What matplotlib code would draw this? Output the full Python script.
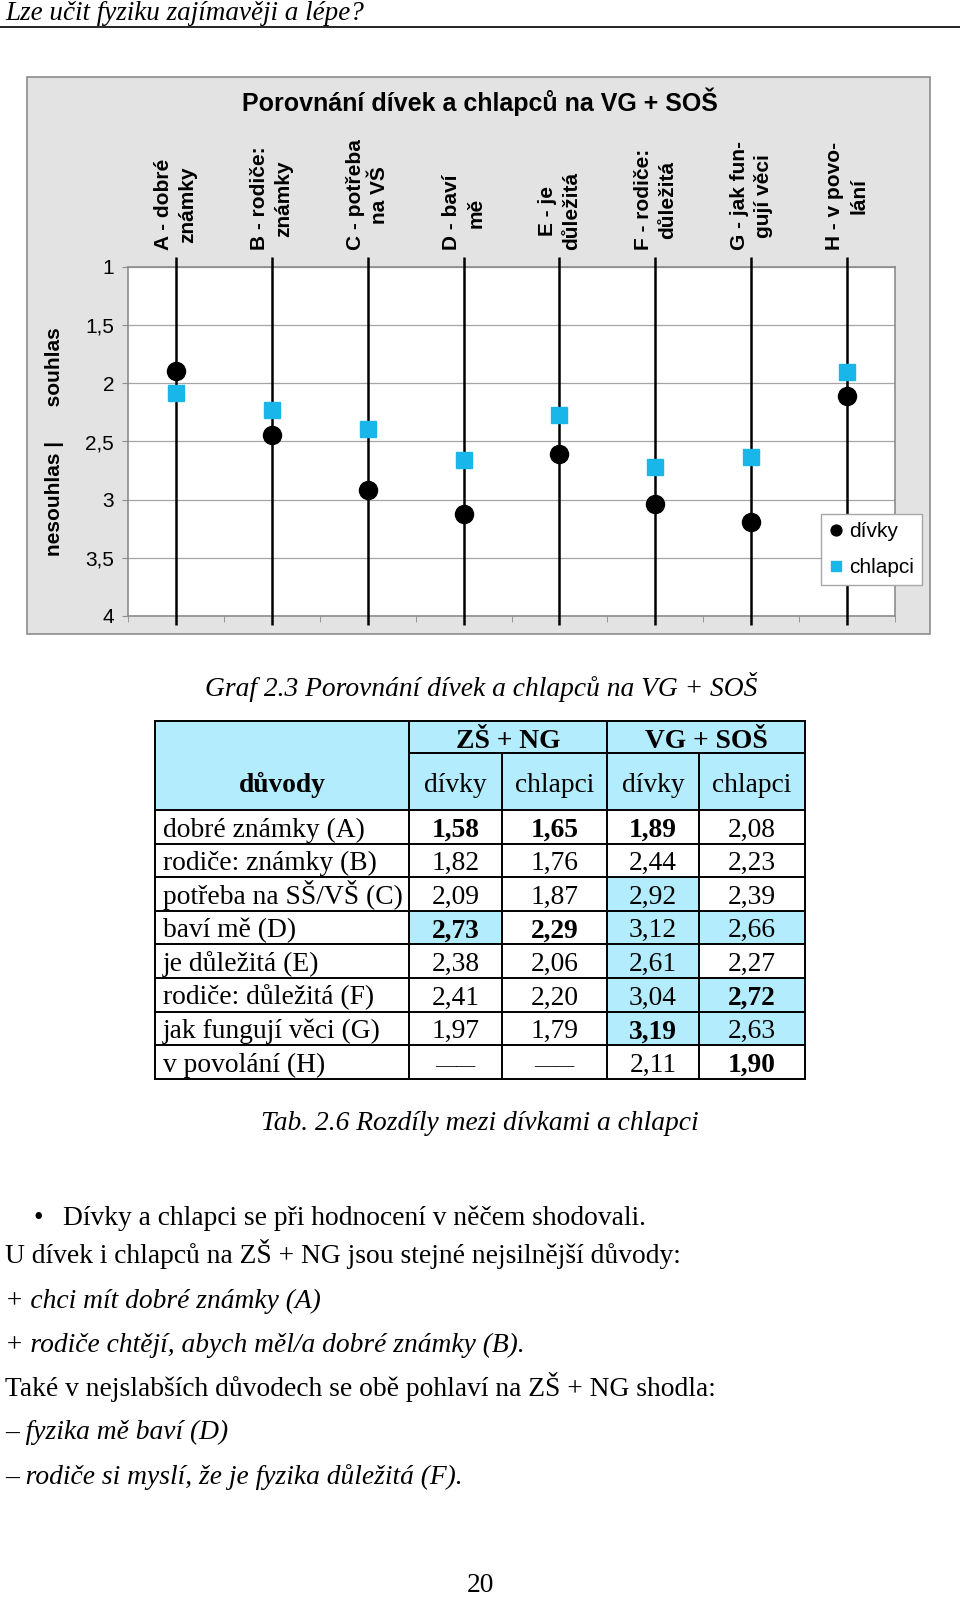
import matplotlib
matplotlib.use('Agg')
import matplotlib.pyplot as plt
import numpy as np
from matplotlib.patches import Rectangle
from matplotlib.transforms import blended_transform_factory

# chart data (VG + SOS)
categories = ['A - dobré\nznámky', 'B - rodiče:\nznámky', 'C - potřeba\nna VŠ',
              'D - baví\nmě', 'E - je\ndůležitá', 'F - rodiče:\ndůležitá',
              'G - jak fun-\ngují věci', 'H - v povo-\nlání']
vg_divky = [1.89, 2.44, 2.92, 3.12, 2.61, 3.04, 3.19, 2.11]
vg_chlapci = [2.08, 2.23, 2.39, 2.66, 2.27, 2.72, 2.63, 1.90]
y_ticks = [1, 1.5, 2, 2.5, 3, 3.5, 4]

# table data
row_names = ['dobré známky (A)', 'rodiče: známky (B)', 'potřeba na SŠ/VŠ (C)',
             'baví mě (D)', 'je důležitá (E)', 'rodiče: důležitá (F)',
             'jak fungují věci (G)', 'v povolání (H)']
zs_divky = [1.58, 1.82, 2.09, 2.73, 2.38, 2.41, 1.97, None]
zs_chlapci = [1.65, 1.76, 1.87, 2.29, 2.06, 2.20, 1.79, None]
highlight = [(2, 2), (3, 0), (3, 2), (3, 3), (4, 2), (5, 2), (5, 3), (6, 2), (6, 3)]
bold = [(0, 0), (0, 1), (0, 2), (3, 0), (3, 1), (5, 3), (6, 2), (7, 3)]

W, H = 960, 1597
SERIF = 'Liberation Serif'
SANS = 'Liberation Sans'
BLUE = '#19b6ea'
LIGHT = '#b3ecfc'
FS = 19.8

fig = plt.figure(figsize=(9.6, 15.97), dpi=100)
page = fig.add_axes([0, 0, 1, 1])
page.set_xlim(0, W)
page.set_ylim(H, 0)
page.axis('off')


def px_axes(x0, y0, x1, y1):
    return fig.add_axes([x0 / W, 1 - y1 / H, (x1 - x0) / W, (y1 - y0) / H])


# page header
page.text(5, 20, 'Lze učit fyziku zajímavěji a lépe?', family=SERIF, style='italic',
          fontsize=19.5, va='baseline')
page.plot([0, W], [27, 27], color='black', lw=1.2)

# chart frame
page.add_patch(Rectangle((27, 77), 903, 557, fc='#e3e3e3', ec='#8c8c8c', lw=1.2))
page.text(480, 102, 'Porovnání dívek a chlapců na VG + SOŠ', family=SANS,
          fontweight='bold', fontsize=18, ha='center', va='center')

ax = px_axes(128, 267, 895, 616)
ax.set_facecolor('white')
x = np.arange(len(categories)) + 0.5
ax.set_xlim(0, len(categories))
ax.set_ylim(4, 1)
ax.set_yticks(y_ticks)
ax.set_yticklabels([('%g' % v).replace('.', ',') for v in y_ticks], family=SANS, fontsize=15)
ax.yaxis.grid(True, color='#a6a6a6', lw=0.9)
ax.set_axisbelow(True)
for s in ax.spines.values():
    s.set_color('#8c8c8c')
    s.set_linewidth(1.2)
ax.tick_params(axis='y', direction='out', length=4, color='#8c8c8c', pad=6)

ax.set_xticks(x)
ax.set_xticklabels(categories, rotation=90, family=SANS, fontweight='bold', fontsize=15,
                   linespacing=1.35, multialignment='center')
ax.tick_params(axis='x', which='major', bottom=False, labelbottom=False,
               top=False, labeltop=True, length=0, pad=12)
ax.set_xticks(np.arange(len(categories) + 1), minor=True)
ax.tick_params(axis='x', which='minor', bottom=True, top=False, direction='out',
               length=4, color='#8c8c8c')

trans = blended_transform_factory(ax.transData, ax.transAxes)
ax.vlines(x, -0.026, 1.029, transform=trans, colors='black', lw=1.8, clip_on=False, zorder=3)
ax.plot(x, vg_divky, 'o', color='black', ms=13, ls='none', label='dívky', zorder=4)
ax.plot(x, vg_chlapci, 's', color=BLUE, mec=BLUE, ms=12, ls='none', label='chlapci', zorder=4)

ax.set_ylabel('nesouhlas |      souhlas', family=SANS, fontweight='bold', fontsize=15)
ax.yaxis.set_label_coords((64 - 128) / 767, 0.5)

leg = ax.legend(loc='upper left', bbox_to_anchor=(821 / W, 1 - 514 / H),
                bbox_transform=fig.transFigure, fancybox=False, framealpha=1,
                edgecolor='#a6a6a6', borderaxespad=0, markerscale=0.6,
                handlelength=0.6, handletextpad=0.35, labelspacing=0.8, borderpad=0.4,
                prop={'family': SANS, 'size': 15})
leg.get_frame().set_linewidth(1)

# caption
page.text(481, 696, 'Graf 2.3 Porovnání dívek a chlapců na VG + SOŠ', family=SERIF,
          style='italic', fontsize=FS, ha='center', va='baseline')

# table
cols = [155, 409, 502, 607, 699, 805]
top, mid, hdr = 721, 753, 810
rh = 33.6
n = len(row_names)
bottom = hdr + rh * n
page.add_patch(Rectangle((cols[0], top), cols[-1] - cols[0], hdr - top, fc=LIGHT, ec='none'))
for (r, c) in highlight:
    page.add_patch(Rectangle((cols[c + 1], hdr + r * rh), cols[c + 2] - cols[c + 1], rh,
                             fc=LIGHT, ec='none'))
lw = 1.4
page.plot([cols[0], cols[-1]], [top, top], color='black', lw=lw)
page.plot([cols[1], cols[-1]], [mid, mid], color='black', lw=lw)
for i in range(n + 1):
    yy = hdr + i * rh
    page.plot([cols[0], cols[-1]], [yy, yy], color='black', lw=lw)
for i, cx in enumerate(cols):
    y0 = mid if i in (2, 4) else top
    page.plot([cx, cx], [y0, bottom], color='black', lw=lw)

tkw = dict(family=SERIF, fontsize=FS, va='baseline')
page.text((cols[1] + cols[3]) / 2, mid - 5, 'ZŠ + NG', ha='center', fontweight='bold', **tkw)
page.text((cols[3] + cols[5]) / 2, mid - 5, 'VG + SOŠ', ha='center', fontweight='bold', **tkw)
page.text((cols[0] + cols[1]) / 2, hdr - 18, 'důvody', ha='center', fontweight='bold', **tkw)
for c, lab in enumerate(['dívky', 'chlapci', 'dívky', 'chlapci']):
    page.text((cols[c + 1] + cols[c + 2]) / 2, hdr - 18, lab, ha='center', **tkw)

columns = [zs_divky, zs_chlapci, vg_divky, vg_chlapci]
for r, name in enumerate(row_names):
    yb = hdr + r * rh + rh - 7
    page.text(cols[0] + 8, yb, name, ha='left', **tkw)
    for c, col in enumerate(columns):
        v = col[r]
        cx = (cols[c + 1] + cols[c + 2]) / 2
        if v is None:
            page.text(cx, yb - 1, '——', ha='center', family=SERIF, fontsize=14.5,
                      va='baseline')
            continue
        page.text(cx, yb, ('%.2f' % v).replace('.', ','), ha='center',
                  fontweight='bold' if (r, c) in bold else 'normal', **tkw)

page.text(480, 1130, 'Tab. 2.6 Rozdíly mezi dívkami a chlapci', family=SERIF,
          style='italic', fontsize=FS, ha='center', va='baseline')

# body text
body = dict(family=SERIF, fontsize=FS, va='baseline')
page.text(38, 1225, '•', ha='center', **body)
page.text(63, 1225, 'Dívky a chlapci se při hodnocení v něčem shodovali.', **body)
page.text(5, 1263, 'U dívek i chlapců na ZŠ + NG jsou stejné nejsilnější důvody:', **body)
page.text(5, 1308, '+ chci mít dobré známky (A)', style='italic', **body)
page.text(5, 1352, '+ rodiče chtějí, abych měl/a dobré známky (B).', style='italic', **body)
page.text(5, 1396, 'Také v nejslabších důvodech se obě pohlaví na ZŠ + NG shodla:', **body)
page.text(5, 1439, '– fyzika mě baví (D)', style='italic', **body)
page.text(5, 1484, '– rodiče si myslí, že je fyzika důležitá (F).', style='italic', **body)
page.text(480, 1592, '20', ha='center', **body)

fig.savefig('out.png', dpi=100)
